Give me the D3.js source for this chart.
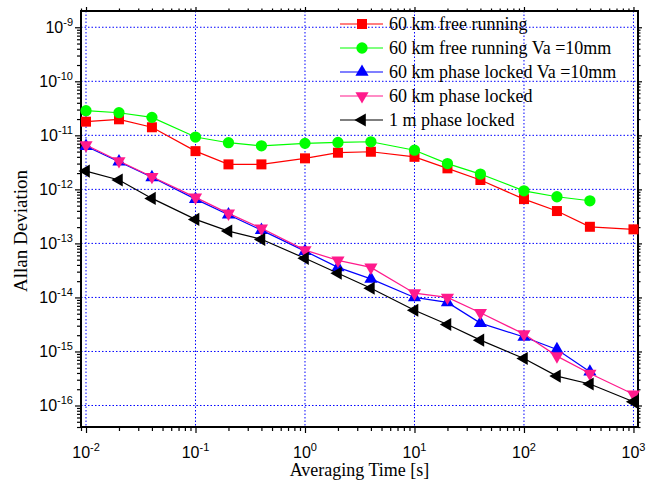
<!DOCTYPE html>
<html>
<head>
<meta charset="utf-8">
<script src="https://cdn.jsdelivr.net/npm/d3@7"></script>
<style>
  body { margin: 0; background: #fff; }
  svg { display: block; }
</style>
</head>
<body>
<div id="chart"></div>
<script>
// averaging times (s)
var tau = [0.01, 0.02, 0.04, 0.1, 0.2, 0.4, 1, 2, 4, 10, 20, 40, 100, 200, 400, 1000];

// allan deviation
var freeRun   = [1.79e-11, 1.98e-11, 1.41e-11, 5.1e-12, 2.9e-12, 2.9e-12, 3.75e-12, 4.77e-12, 4.97e-12, 4.0e-12, 2.45e-12, 1.49e-12, 6.6e-13, 3.97e-13, 2.03e-13, 1.82e-13];
var freeRunVa = [2.86e-11, 2.62e-11, 2.15e-11, 9.3e-12, 7.3e-12, 6.4e-12, 7.1e-12, 7.4e-12, 7.6e-12, 5.3e-12, 3.0e-12, 1.92e-12, 9.4e-13, 7.3e-13, 6.15e-13];
var lockedVa  = [6.3e-12, 3.25e-12, 1.67e-12, 6.6e-13, 3.4e-13, 1.76e-13, 7.2e-14, 3.6e-14, 2.2e-14, 1.0e-14, 8.1e-15, 3.35e-15, 1.85e-15, 1.09e-15, 4.2e-16];
var locked    = [6.6e-12, 3.35e-12, 1.71e-12, 7.1e-13, 3.6e-13, 1.9e-13, 7.5e-14, 4.85e-14, 3.6e-14, 1.2e-14, 1.0e-14, 5.2e-15, 2.1e-15, 8.2e-16, 3.9e-16, 1.62e-16];
var oneMeter  = [2.18e-12, 1.49e-12, 6.8e-13, 2.78e-13, 1.69e-13, 1.19e-13, 5.3e-14, 2.8e-14, 1.48e-14, 5.8e-15, 3.15e-15, 1.62e-15, 7.4e-16, 3.5e-16, 2.5e-16, 1.17e-16];

var seriesNames = ["60 km free running", "60 km free running Va =10mm", "60 km phase locked Va =10mm", "60 km phase locked", "1 m phase locked"];

var xExps = [-2, -1, 0, 1, 2, 3];
var yExps = [-9, -10, -11, -12, -13, -14, -15, -16];

var svgWidth = 648, svgHeight = 481;
var margin = {top: 11, right: 10, bottom: 54, left: 81};
var width = svgWidth - margin.left - margin.right;
var height = svgHeight - margin.top - margin.bottom;

var svg = d3.select("#chart").append("svg")
  .attr("width", svgWidth)
  .attr("height", svgHeight);

var g = svg.append("g")
  .attr("transform", `translate(${margin.left}, ${margin.top})`);

var x = d3.scaleLog().domain([0.009, 1100]).range([0, width]);
var y = d3.scaleLog().domain([4e-17, 2e-9]).range([height, 0]);

// minor tick values 2..9 per decade
function minors(lo, hi) {
  var out = [];
  for (var e = lo; e < hi; e++) {
    for (var m = 2; m <= 9; m++) out.push(m * Math.pow(10, e));
  }
  return out;
}
var xMinor = minors(-3, 3).filter(v => v >= 0.009 && v <= 1100);
var yMinor = minors(-17, -9).filter(v => v >= 4e-17 && v <= 2e-9);
var xMajor = xExps.map(e => Math.pow(10, e));
var yMajor = yExps.map(e => Math.pow(10, e));

// grid
g.append("g").selectAll("line").data(xMajor).enter().append("line")
  .attr("x1", d => x(d)).attr("x2", d => x(d))
  .attr("y1", 0).attr("y2", height)
  .attr("stroke", "#0000ff").attr("stroke-width", 1).attr("stroke-dasharray", "1.5,2");
g.append("g").selectAll("line").data(yMajor).enter().append("line")
  .attr("y1", d => y(d)).attr("y2", d => y(d))
  .attr("x1", 0).attr("x2", width)
  .attr("stroke", "#0000ff").attr("stroke-width", 1).attr("stroke-dasharray", "1.5,2");

// axes (ticks only)
function tickAxis(axisFn, scale, vals, size, transform) {
  var a = g.append("g").attr("transform", transform)
    .call(axisFn(scale).tickValues(vals).tickSize(size).tickFormat(""));
  a.select(".domain").remove();
  a.selectAll("line").attr("stroke", "#000").attr("stroke-width", 1.2);
  return a;
}
tickAxis(d3.axisBottom, x, xMajor, 6, `translate(0,${height})`);
tickAxis(d3.axisBottom, x, xMinor, 4, `translate(0,${height})`);
tickAxis(d3.axisTop, x, xMajor, 4, "translate(0,0)");
tickAxis(d3.axisTop, x, xMinor, 2.5, "translate(0,0)");
tickAxis(d3.axisLeft, y, yMajor, 6, "translate(0,0)");
tickAxis(d3.axisLeft, y, yMinor, 4, "translate(0,0)");
tickAxis(d3.axisRight, y, yMajor, 4, `translate(${width},0)`);
tickAxis(d3.axisRight, y, yMinor, 2.5, `translate(${width},0)`);

// frame
g.append("rect")
  .attr("x", 0).attr("y", 0).attr("width", width).attr("height", height)
  .attr("fill", "none").attr("stroke", "#000").attr("stroke-width", 2);

// tick labels with superscripts
var tickFont = "Liberation Sans, Arial, sans-serif";
var xl = g.append("g").selectAll("text").data(xExps).enter().append("text")
  .attr("x", d => x(Math.pow(10, d)))
  .attr("y", height + 31)
  .attr("text-anchor", "middle")
  .attr("font-family", tickFont)
  .attr("font-size", "16px");
xl.append("tspan").text("10");
xl.append("tspan").attr("dy", -7).attr("font-size", "11px").text(d => d);

var yl = g.append("g").selectAll("text").data(yExps).enter().append("text")
  .attr("x", -8)
  .attr("y", d => y(Math.pow(10, d)) + 6)
  .attr("text-anchor", "end")
  .attr("font-family", tickFont)
  .attr("font-size", "16px");
yl.append("tspan").text("10");
yl.append("tspan").attr("dy", -7).attr("font-size", "11px").text(d => d);

// axis titles
g.append("text")
  .attr("x", width / 2).attr("y", height + 49)
  .attr("text-anchor", "middle")
  .attr("font-family", "Liberation Serif, Times New Roman, serif")
  .attr("font-size", "18px")
  .text("Averaging Time [s]");

g.append("text")
  .attr("transform", `translate(${-54}, ${220}) rotate(-90)`)
  .attr("text-anchor", "middle")
  .attr("font-family", "Liberation Serif, Times New Roman, serif")
  .attr("font-size", "19px")
  .text("Allan Deviation");

// series
var series = [
  {name: seriesNames[0], vals: freeRun,   color: "#ff0000", sym: d3.symbolSquare,   size: 100, rot: 0},
  {name: seriesNames[1], vals: freeRunVa, color: "#00ff00", sym: d3.symbolCircle,   size: 100, rot: 0},
  {name: seriesNames[2], vals: lockedVa,  color: "#0000ff", sym: d3.symbolTriangle, size: 75,  rot: 0},
  {name: seriesNames[3], vals: locked,    color: "#ff1a8c", sym: d3.symbolTriangle, size: 75,  rot: 180},
  {name: seriesNames[4], vals: oneMeter,  color: "#000000", sym: d3.symbolTriangle, size: 75,  rot: -90}
];

var line = d3.line()
  .x(d => x(d[0]))
  .y(d => y(d[1]));

series.forEach(function(s) {
  var pts = s.vals.map((v, i) => [tau[i], v]);
  g.append("path")
    .datum(pts)
    .attr("d", line)
    .attr("fill", "none")
    .attr("stroke", s.color)
    .attr("stroke-width", 1.2);
  g.append("g").selectAll("path").data(pts).enter().append("path")
    .attr("d", d3.symbol().type(s.sym).size(s.size))
    .attr("transform", d => `translate(${x(d[0])},${y(d[1])}) rotate(${s.rot})`)
    .attr("fill", s.color);
});

// legend
var legend = svg.append("g").attr("transform", "translate(340, 24)");
series.forEach(function(s, i) {
  var row = legend.append("g").attr("transform", `translate(0, ${i * 24})`);
  row.append("line")
    .attr("x1", 0).attr("x2", 43).attr("y1", 0).attr("y2", 0)
    .attr("stroke", s.color).attr("stroke-width", 1.2);
  row.append("path")
    .attr("d", d3.symbol().type(s.sym).size(s.size))
    .attr("transform", `translate(22,0) rotate(${s.rot})`)
    .attr("fill", s.color);
  row.append("text")
    .attr("x", 49).attr("y", 6)
    .attr("font-family", "Liberation Serif, Times New Roman, serif")
    .attr("font-size", "18px")
    .text(s.name);
});
</script>
</body>
</html>
